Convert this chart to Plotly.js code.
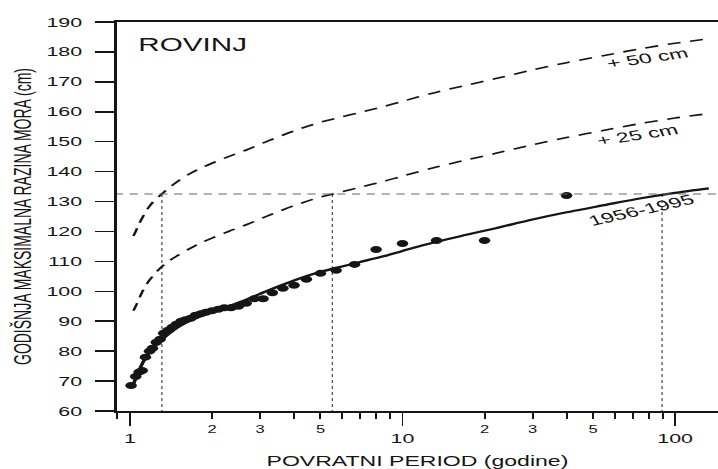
<!DOCTYPE html>
<html><head><meta charset="utf-8">
<script src="https://cdn.plot.ly/plotly-3.0.1.min.js"></script>
<style>
html,body{margin:0;padding:0;overflow:hidden;background:#fff;width:718px;height:469px;}
#wrap{width:718px;height:469px;overflow:hidden;}
#chart{width:436px;height:469px;transform:scaleX(1.6468);transform-origin:0 0;}
</style></head><body><div id="wrap"><div id="chart"></div></div>
<script>
// Observed annual maxima (plotting positions, years) and levels (cm)
const returnPeriod = [40, 20, 13.33, 10, 8, 6.67, 5.71, 5, 4.44, 4, 3.64, 3.33, 3.08, 2.86, 2.67, 2.5, 2.35, 2.22, 2.11, 2, 1.9, 1.82, 1.74, 1.67, 1.6, 1.54, 1.48, 1.43, 1.38, 1.33, 1.29, 1.25, 1.21, 1.18, 1.14, 1.11, 1.08, 1.05, 1.01];
const annualMax = [132, 117, 117, 116, 114, 109, 107, 106, 104, 102, 101, 99.5, 97.5, 97.5, 96, 95, 94.5, 94.5, 94, 93.5, 93, 92.5, 92, 91, 90.5, 90, 89, 88, 87, 86, 84, 83, 81, 80, 78, 73.5, 73, 71.5, 68.5];

// Fitted curve 1956-1995 and the +25 / +50 cm curves, read along their paths
const curveT = [1.03, 1.05, 1.08, 1.12, 1.17, 1.22, 1.3, 1.4, 1.5, 1.65, 1.8, 2.0, 2.3, 2.7, 3.2, 4, 5, 6, 7, 8.5, 10, 13, 17, 22, 30, 40, 55, 75, 100, 133];
const fit1956_1995 = [69, 70.8, 73.5, 76.5, 79.3, 81.3, 83.5, 86, 88, 90, 91.5, 93, 95, 97.4, 100.2, 103.6, 106.5, 108.3, 109.8, 111.7, 113.5, 116.3, 118.8, 121.1, 124, 126.4, 128.8, 131.1, 132.9, 134.4];
const plus25 = [93.5, 95, 97.5, 100.5, 103.3, 105.3, 108, 110.3, 112, 114.2, 116, 117.8, 120, 122.4, 125.2, 128.6, 131.5, 133.3, 134.8, 136.7, 138.5, 141.3, 143.8, 146.1, 149, 151.4, 153.8, 156.1, 157.9, 159.4];
const plus50 = [118.5, 120, 122.5, 125.2, 128, 130, 132.3, 134.8, 136.8, 139.2, 141, 142.8, 145, 147.4, 150.2, 153.6, 156.5, 158.3, 159.8, 161.7, 163.5, 166.3, 168.8, 171.1, 174, 176.4, 178.8, 181.1, 182.9, 184.4];

// Reference level and the return periods where the curves reach it
const refLevel = 132.5;
const refPeriods = [1.31, 5.53, 89.6];

// Axis ticks
const yTicks = [60, 70, 80, 90, 100, 110, 120, 130, 140, 150, 160, 170, 180, 190];
const xMajorTicks = [1, 10, 100];
const xMajorLabels = ['1', '10', '100'];
const xMinorLabelTicks = [2, 3, 5, 20, 30, 50];
const xMinorLabels = ['2', '3', '5', '2', '3', '5'];

const FONT = 'Liberation Sans, Arial, Helvetica, sans-serif';
const INK = '#151515';
const xRange = [-0.0477, 2.1575];

const vx = [], vy = [];
refPeriods.forEach(t => { vx.push(t, t, null); vy.push(refLevel, 60, null); });

const traces = [
  {x: vx, y: vy, mode: 'lines', line: {color: '#555', width: 0.8, dash: '3px,3px'}, hoverinfo: 'skip'},
  {x: curveT, y: plus50, mode: 'lines', line: {color: INK, width: 1.6, dash: '8px,6px', shape: 'spline', smoothing: 0.8}, name: '+ 50 cm'},
  {x: curveT, y: plus25, mode: 'lines', line: {color: INK, width: 1.6, dash: '8px,6px', shape: 'spline', smoothing: 0.8}, name: '+ 25 cm'},
  {x: curveT, y: fit1956_1995, mode: 'lines', line: {color: INK, width: 2.2, shape: 'spline', smoothing: 0.8}, name: '1956-1995'},
  {x: returnPeriod, y: annualMax, mode: 'markers', marker: {color: INK, size: 7}, name: 'data'},
  {x: [0.88, 150], y: [refLevel, refLevel], xaxis: 'x2', mode: 'lines', line: {color: '#666', width: 1, dash: '5px,4px'}, hoverinfo: 'skip'}
];

const layout = {
  width: 436, height: 469,
  margin: {l: 71, r: 0, t: 22, b: 58},
  paper_bgcolor: '#fff', plot_bgcolor: '#fff',
  showlegend: false,
  font: {family: FONT, color: INK},
  title: {text: 'ROVINJ', x: 84 / 436, xref: 'container', xanchor: 'left', y: 1 - 44.5 / 469, yref: 'container', yanchor: 'middle', font: {size: 18, color: INK, family: FONT}},
  xaxis: {
    type: 'log', range: xRange, tickmode: 'array', tickvals: xMajorTicks, ticktext: xMajorLabels,
    ticks: 'outside', ticklen: 13, tickwidth: 1.2, tickcolor: INK, ticklabelstandoff: 2,
    showline: true, linecolor: INK, linewidth: 1.8, mirror: true,
    showgrid: false, zeroline: false, tickfont: {size: 13, family: FONT, color: INK},
    minor: {dtick: 'D1', ticks: 'outside', ticklen: 6, tickwidth: 1.2, tickcolor: INK, showgrid: false},
    title: {text: 'POVRATNI PERIOD (godine)', font: {size: 14, family: FONT, color: INK}, standoff: 12}
  },
  xaxis2: {
    type: 'log', range: xRange, overlaying: 'x', anchor: 'y', side: 'bottom',
    tickmode: 'array', tickvals: xMinorLabelTicks, ticktext: xMinorLabels, ticks: '', ticklabelstandoff: 11,
    showline: false, showgrid: false, zeroline: false, tickfont: {size: 10, family: FONT, color: INK}
  },
  yaxis: {
    range: [60, 190], tickmode: 'array', tickvals: yTicks,
    ticks: 'outside', ticklen: 12, tickwidth: 1.5, tickcolor: INK, ticklabelstandoff: 5,
    showline: true, linecolor: INK, linewidth: 1.5,
    showgrid: false, zeroline: false, tickfont: {size: 13, family: FONT, color: INK},
    title: {text: 'GODIŠNJA MAKSIMALNA RAZINA MORA (cm)', font: {size: 14, family: FONT, color: INK}, standoff: 5}
  },
  annotations: [
    {x: Math.log10(78.9), y: 178, xref: 'x', yref: 'y', text: '+ 50 cm', showarrow: false, textangle: -13, font: {size: 14, family: FONT, color: INK}},
    {x: Math.log10(72.5), y: 152.2, xref: 'x', yref: 'y', text: '+ 25 cm', showarrow: false, textangle: -14, font: {size: 14, family: FONT, color: INK}},
    {x: Math.log10(75), y: 127.1, xref: 'x', yref: 'y', text: '1956-1995', showarrow: false, textangle: -20, font: {size: 14, family: FONT, color: INK}}
  ]
};

Plotly.newPlot('chart', traces, layout, {staticPlot: true, displayModeBar: false});
</script></body></html>
